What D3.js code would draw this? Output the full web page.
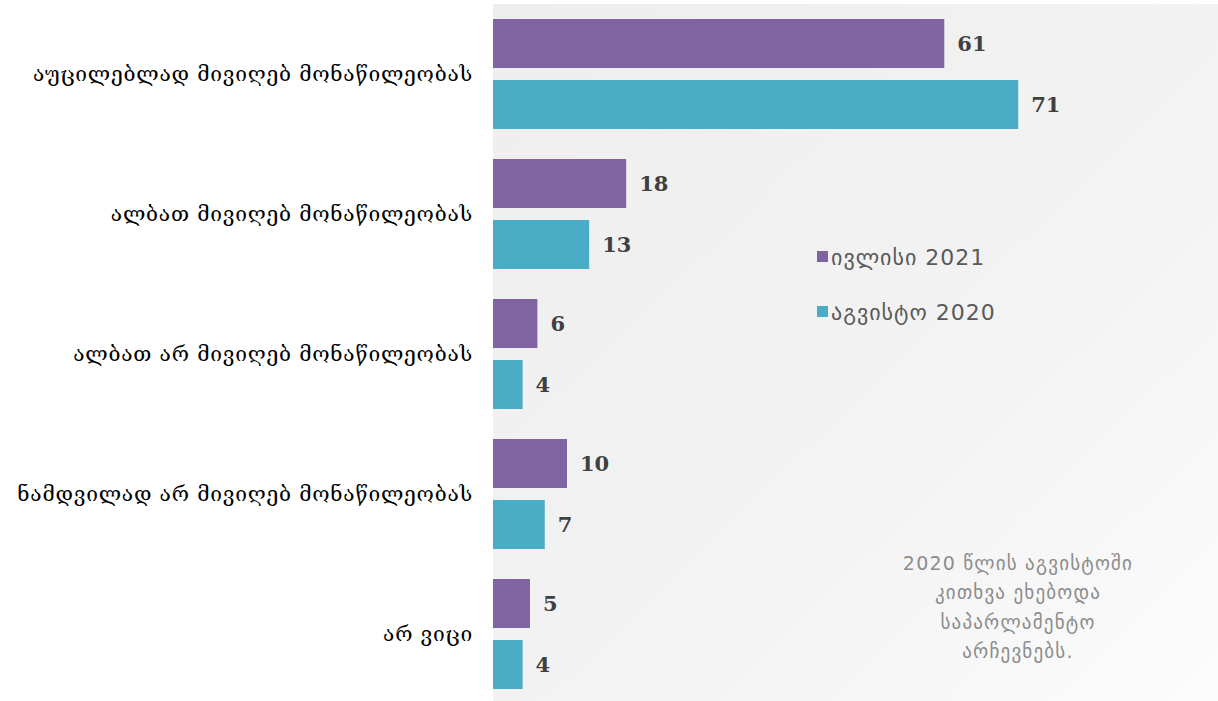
<!DOCTYPE html>
<html><head><meta charset="utf-8">
<script src="https://cdn.jsdelivr.net/npm/d3@7"></script>
<style>html,body{margin:0;padding:0;background:#fff;overflow:hidden}</style>
</head><body>
<svg id="chart" width="1218" height="701"></svg>
<script>
const categories = ["აუცილებლად მივიღებ მონაწილეობას","ალბათ მივიღებ მონაწილეობას","ალბათ არ მივიღებ მონაწილეობას","ნამდვილად არ მივიღებ მონაწილეობას","არ ვიცი"];
const seriesNames = ["ივლისი 2021","აგვისტო 2020"];
const july2021 = [61,18,6,10,5];
const aug2020 = [71,13,4,7,4];
const colors = ["#8064a2","#4bacc6"];
const noteLines = ["2020 წლის აგვისტოში","კითხვა ეხებოდა","საპარლამენტო","არჩევნებს."];

const svg = d3.select("#chart");
const plot = {left:493, top:4, right:1218, bottom:704};

const defs = svg.append("defs");
const grad = defs.append("linearGradient").attr("id","bg").attr("x1","0").attr("y1","0").attr("x2","1").attr("y2","1");
grad.append("stop").attr("offset","0").attr("stop-color","#eeeeee");
grad.append("stop").attr("offset","0.6").attr("stop-color","#f3f3f3");
grad.append("stop").attr("offset","1").attr("stop-color","#fcfcfc");
svg.append("rect").attr("x",plot.left).attr("y",plot.top).attr("width",plot.right-plot.left).attr("height",697).attr("fill","url(#bg)");

const x = d3.scaleLinear().domain([0,98]).range([plot.left, plot.right]);
const y = d3.scaleBand().domain(categories).range([plot.top, plot.bottom]).paddingInner(30/140).paddingOuter(15/140);
const inner = d3.scaleBand().domain([0,1]).range([0, y.bandwidth()]).paddingInner(0.197);

const data = categories.map((c,i)=>({c, vals:[july2021[i], aug2020[i]]}));
const g = svg.selectAll("g.grp").data(data).join("g").attr("class","grp").attr("transform",d=>`translate(0,${y(d.c)})`);
g.selectAll("rect").data(d=>d.vals).join("rect")
  .attr("x",x(0)).attr("y",(v,j)=>inner(j)).attr("width",v=>x(v)-x(0)).attr("height",inner.bandwidth())
  .attr("fill",(v,j)=>colors[j]);
g.selectAll("text.val").data(d=>d.vals).join("text").attr("class","val")
  .attr("x",v=>x(v)+13).attr("y",(v,j)=>inner(j)+inner.bandwidth()/2).attr("dy","0.36em")
  .attr("font-family","DejaVu Serif").attr("font-weight","bold").attr("font-size",21).attr("fill","#404040")
  .text(v=>v);

// category axis labels
const yAxis = d3.axisLeft(y).tickSize(0).tickPadding(20);
const ax = svg.append("g").attr("transform",`translate(${plot.left},0)`).call(yAxis);
ax.select(".domain").remove();
ax.selectAll("text").attr("font-family","DejaVu Serif").attr("font-size",21).attr("letter-spacing","0.75px").attr("fill","#000").attr("dy","0.35em");

// legend
const leg = svg.append("g").attr("transform","translate(817,257)");
seriesNames.forEach((s,i)=>{
  const r = leg.append("g").attr("transform",`translate(0,${i*55})`);
  r.append("rect").attr("x",0).attr("y",-6).attr("width",11).attr("height",11).attr("fill",colors[i]);
  r.append("text").attr("x",14).attr("y",0).attr("dy","0.35em").attr("font-family","DejaVu Sans").attr("font-size",22).attr("letter-spacing","1px").attr("fill","#595959").text(s);
});

// note
svg.append("g").selectAll("text").data(noteLines).join("text")
  .attr("x",1018).attr("y",(d,i)=>563+i*29.5).attr("dy","0.35em").attr("text-anchor","middle")
  .attr("font-family","DejaVu Sans").attr("font-size",19).attr("letter-spacing","1.2px").attr("fill","#8c8c8c").text(d=>d);
</script>
</body></html>
